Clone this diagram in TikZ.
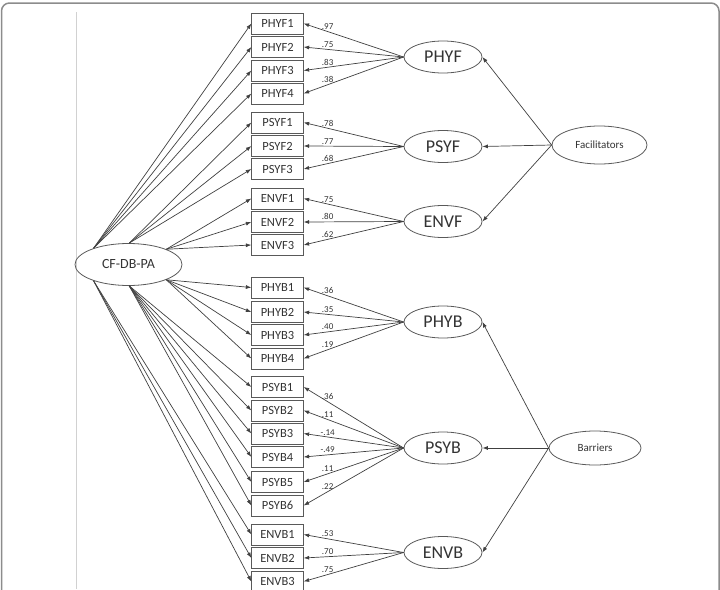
\documentclass[tikz,border=0pt]{standalone}
\usepackage{fontspec}
\setmainfont{Carlito}
\usetikzlibrary{arrows.meta,shapes.geometric}
\begin{document}
\begin{tikzpicture}[x=1pt,y=-1pt,
  ind/.style={draw=black!65, line width=0.8pt, minimum width=51.5pt, minimum height=21pt, inner sep=0pt, font=\fontsize{12.5}{14}\selectfont, text=black!80},
  lat/.style={ellipse, draw=black!65, line width=0.8pt, minimum width=78pt, minimum height=32pt, inner sep=0pt, font=\fontsize{18}{20}\selectfont, text=black!80},
  big/.style={ellipse, draw=black!65, line width=0.8pt, inner sep=0pt, text=black!80},
  arr/.style={-{Latex[length=5.5pt,width=4pt]}, draw=black!75, line width=0.7pt},
  lbl/.style={font=\fontsize{9}{10}\selectfont, text=black!80, inner sep=1.5pt, anchor=south}
]
\useasboundingbox (0,0) rectangle (720,589);
\clip (0,0) rectangle (720,589);
\draw[black!45, line width=1.5pt, rounded corners=8pt] (1.5,3) rectangle (719,640);
\draw[black!18, line width=0.8pt] (76,12) -- (76,589);

% indicators
\foreach \n/\t/\y in {phyfa/PHYF1/23.5, phyfb/PHYF2/47, phyfc/PHYF3/70.5, phyfd/PHYF4/93.5,
  psyfa/PSYF1/122.5, psyfb/PSYF2/146, psyfc/PSYF3/169,
  envfa/ENVF1/198.5, envfb/ENVF2/222, envfc/ENVF3/245,
  phyba/PHYB1/287.5, phybb/PHYB2/312, phybc/PHYB3/335, phybd/PHYB4/358.5,
  psyba/PSYB1/387, psybb/PSYB2/410.5, psybc/PSYB3/433.5, psybd/PSYB4/457, psybe/PSYB5/482, psybf/PSYB6/505.5,
  envba/ENVB1/534.5, envbb/ENVB2/558, envbc/ENVB3/581.5}
  {\node[ind] (\n) at (277.5,\y) {\t};}

% latent factors
\node[lat] (phyf) at (443,57) {PHYF};
\node[lat] (psyf) at (443,146.5) {PSYF};
\node[lat] (envf) at (443,221.5) {ENVF};
\node[lat] (phyb) at (443,322) {PHYB};
\node[lat] (psyb) at (443,448) {PSYB};
\node[lat] (envb) at (443,552.5) {ENVB};

\node[big, minimum width=95pt, minimum height=38pt, font=\fontsize{11}{13}\selectfont] (fac) at (599.5,145) {Facilitators};
\node[big, minimum width=92pt, minimum height=34pt, font=\fontsize{11}{13}\selectfont] (bar) at (595,448) {Barriers};
\node[big, minimum width=107pt, minimum height=42pt, font=\fontsize{14}{16}\selectfont] (cf) at (128.5,264.5) {CF-DB-PA};

% second order
\draw[arr] (fac.west) -- (phyf.east);
\draw[arr] (fac.west) -- (psyf.east);
\draw[arr] (fac.west) -- (envf.east);
\draw[arr] (bar.west) -- (phyb.east);
\draw[arr] (bar.west) -- (psyb.east);
\draw[arr] (bar.west) -- (envb.east);

% loadings
\foreach \f/\i/\v in {phyf/phyfa/.97, phyf/phyfb/.75, phyf/phyfc/.83, phyf/phyfd/.38,
  psyf/psyfa/.78, psyf/psyfb/.77, psyf/psyfc/.68,
  envf/envfa/.75, envf/envfb/.80, envf/envfc/.62,
  phyb/phyba/.36, phyb/phybb/.35, phyb/phybc/.40, phyb/phybd/.19,
  psyb/psyba/.36, psyb/psybb/.11, psyb/psybc/-.14, psyb/psybd/-.49, psyb/psybe/.11, psyb/psybf/.22,
  envb/envba/.53, envb/envbb/.70, envb/envbc/.75}
  {\draw[arr] (\f.west) -- node[lbl, pos=0.76] {\v} (\i.east);}

% general factor
\coordinate (cA) at (cf.155);
\coordinate (cB) at (cf.88);
\coordinate (cC) at (cf.22);
\coordinate (cD) at (cf.-22);
\coordinate (cE) at (cf.-88);
\coordinate (cF) at (cf.205);
\foreach \i in {phyfa,phyfb,phyfc,phyfd} {\draw[arr] (cA) -- (\i.west);}
\foreach \i in {psyfa,psyfb,psyfc} {\draw[arr] (cB) -- (\i.west);}
\foreach \i in {envfa,envfb,envfc} {\draw[arr] (cC) -- (\i.west);}
\foreach \i in {phyba,phybb,phybc,phybd} {\draw[arr] (cD) -- (\i.west);}
\foreach \i in {psyba,psybb,psybc,psybd,psybe,psybf} {\draw[arr] (cE) -- (\i.west);}
\foreach \i in {envba,envbb,envbc} {\draw[arr] (cF) -- (\i.west);}
\end{tikzpicture}
\end{document}
